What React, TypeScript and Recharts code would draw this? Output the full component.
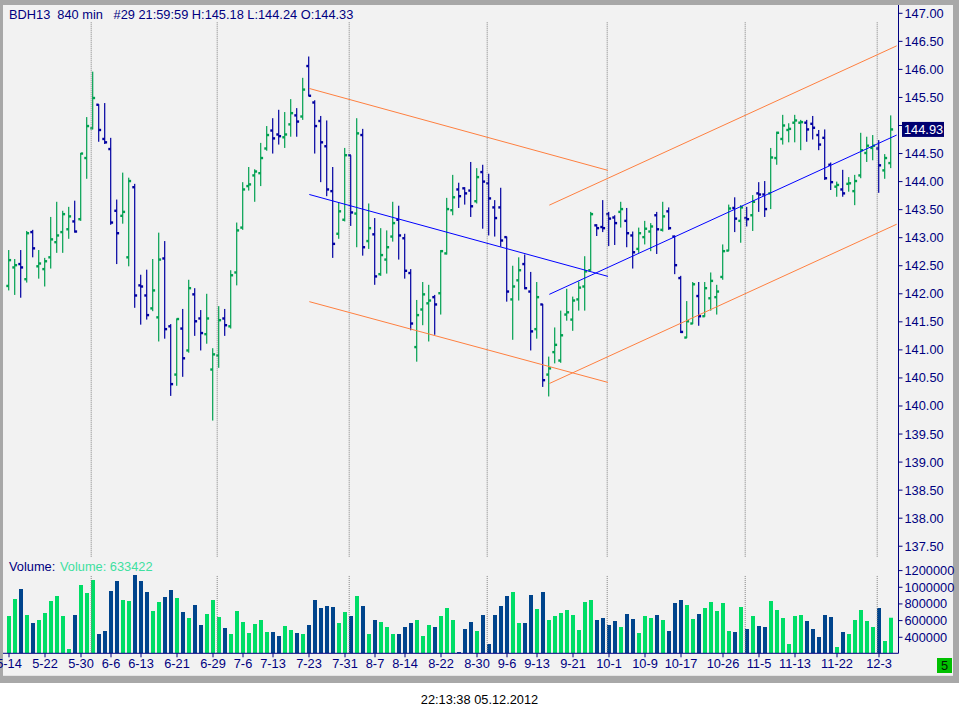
import React from "react";
import { ComposedChart, Bar, Cell, XAxis, YAxis, ReferenceLine } from "recharts";

// BDH13, 840 min bars, 14 May - 5 Dec 2012
const openP = [
  142.14, 142.47, 142.53, 142.26, 143.1, 142.49, 142.44, 142.65, 142.92, 143.1,
  143.15, 143.29, 143.33, 144.42, 144.95, 145.37, 144.76, 144.58, 143.48, 143.39,
  142.65, 143.9, 142.15, 141.97, 141.74, 141.58, 142.63, 141.42, 140.56, 141.38,
  140.99, 141.99, 141.56, 141.28, 140.65, 140.9, 141.56, 141.42, 142.38, 143.18,
  143.92, 144.11, 144.15, 144.59, 144.91, 144.84, 144.79, 145.02, 145.18, 145.16,
  146.06, 145.41, 145.08, 144.63, 143.83, 143.07, 143.32, 144.47, 143.43, 144.83,
  142.94, 143.06, 142.35, 142.61, 143.02, 143.32, 142.99, 142.37, 141.05, 141.72,
  141.83, 141.94, 142.01, 142.72, 143.49, 143.86, 143.88, 143.84, 143.65, 144.17,
  143.97, 143.54, 143.54, 143.01, 141.9, 142.24, 142.53, 142.04, 141.37, 141.81,
  140.56, 140.96, 140.81, 141.63, 141.54, 141.9, 142.13, 142.42, 143.22, 143.19,
  143.42, 143.36, 143.46, 143.3, 143.04, 142.8, 143.01, 143.11, 143.4, 143.14,
  143.47, 143.02, 142.28, 141.22, 141.47, 141.96, 141.6, 141.92, 141.94, 142.3,
  142.77, 143.53, 143.3, 143.35, 143.4, 143.79, 143.77, 143.79, 144.42, 144.76,
  144.92, 145.05, 145.05, 145.05, 145.03, 144.83, 144.78, 144.3, 143.91, 143.86,
  143.96, 143.83, 144.11, 144.51, 144.6, 144.59, 144.2, 144.33,
];
const highP = [
  142.78, 142.62, 142.78, 143.12, 143.14, 142.78, 142.64, 143.37, 143.64, 143.48,
  143.55, 143.66, 144.51, 145.15, 145.96, 145.38, 145.4, 144.78, 143.68, 144.16,
  144.07, 143.96, 142.34, 142.43, 142.62, 143.09, 142.94, 141.46, 141.56, 141.73,
  142.25, 142.1, 141.71, 142.0, 141.03, 141.78, 141.73, 142.42, 143.27, 143.99,
  144.26, 144.22, 144.69, 144.99, 145.13, 145.28, 145.24, 145.47, 145.31, 145.85,
  146.23, 145.45, 145.17, 145.09, 144.26, 143.63, 144.6, 144.47, 145.13, 144.94,
  143.61, 143.35, 143.17, 143.13, 143.64, 143.57, 143.07, 142.44, 141.89, 142.21,
  142.16, 141.98, 142.78, 143.71, 144.12, 143.98, 143.9, 144.35, 144.24, 144.3,
  144.14, 143.67, 143.89, 143.02, 142.5, 142.65, 142.7, 142.39, 142.21, 141.82,
  140.88, 141.4, 141.7, 142.09, 141.95, 142.22, 142.67, 143.46, 143.24, 143.67,
  143.46, 143.4, 143.64, 143.53, 143.11, 143.18, 143.3, 143.26, 143.46, 143.64,
  143.54, 143.04, 142.32, 141.87, 142.21, 142.21, 142.21, 142.38, 142.16, 142.88,
  143.59, 143.72, 143.58, 143.55, 143.76, 143.99, 144.01, 144.6, 144.89, 145.19,
  145.04, 145.19, 145.1, 145.1, 145.17, 144.92, 144.93, 144.34, 144.0, 144.21,
  144.08, 144.12, 144.87, 144.8, 144.83, 144.74, 144.49, 145.18,
];
const lowP = [
  142.06, 141.98, 141.93, 142.2, 142.65, 142.27, 142.13, 142.45, 142.73, 142.73,
  142.98, 143.09, 143.3, 144.05, 144.93, 144.71, 144.67, 143.23, 142.53, 143.25,
  142.49, 141.75, 141.45, 141.54, 141.69, 141.15, 141.2, 140.18, 140.36, 140.52,
  140.95, 141.25, 140.99, 141.11, 139.74, 140.68, 141.25, 141.38, 142.15, 143.14,
  143.84, 143.64, 143.92, 144.55, 144.5, 144.66, 144.6, 144.8, 144.8, 145.1,
  145.52, 144.5, 143.99, 143.74, 142.64, 142.98, 143.29, 143.21, 142.83, 142.68,
  142.8, 142.16, 142.32, 142.36, 142.93, 142.61, 142.27, 141.35, 140.79, 141.44,
  141.15, 141.27, 141.63, 142.7, 143.4, 143.53, 143.59, 143.37, 143.61, 143.16,
  143.04, 143.02, 142.84, 141.86, 141.18, 141.88, 142.08, 140.99, 141.2, 140.34,
  140.17, 140.76, 140.77, 141.52, 141.34, 141.7, 141.7, 142.41, 143.03, 143.1,
  142.85, 142.87, 143.18, 142.83, 142.45, 142.73, 142.88, 142.76, 142.71, 143.11,
  143.14, 142.35, 141.3, 141.21, 141.46, 141.43, 141.59, 141.7, 141.63, 142.25,
  142.76, 143.1, 142.91, 143.2, 143.12, 143.46, 143.37, 143.51, 144.3, 144.66,
  144.7, 144.7, 144.56, 144.71, 144.75, 144.56, 144.03, 143.85, 143.73, 143.73,
  143.82, 143.58, 144.06, 144.35, 144.38, 143.8, 144.05, 144.24,
];
const closeP = [
  142.6, 142.51, 142.47, 143.08, 142.81, 142.54, 142.58, 142.97, 143.04, 143.42,
  143.38, 143.11, 144.5, 144.99, 145.49, 144.92, 144.7, 143.27, 143.08, 143.46,
  144.01, 141.97, 142.13, 141.62, 142.06, 142.61, 141.37, 140.39, 141.55, 140.85,
  142.1, 141.51, 141.3, 141.56, 140.92, 141.53, 141.44, 142.33, 143.13, 143.86,
  143.95, 144.18, 144.42, 144.83, 144.77, 144.81, 144.84, 145.22, 145.07, 145.64,
  145.53, 144.99, 144.7, 143.86, 142.89, 143.47, 144.47, 143.45, 144.86, 142.83,
  143.17, 142.31, 142.69, 142.83, 143.26, 143.04, 142.41, 141.47, 141.62, 141.99,
  141.88, 141.81, 142.76, 143.51, 143.72, 143.74, 143.79, 143.56, 144.08, 144.0,
  143.7, 143.35, 142.95, 142.04, 142.13, 142.42, 142.1, 141.33, 141.94, 140.46,
  140.67, 141.09, 141.26, 141.67, 141.88, 142.11, 142.4, 143.42, 143.17, 143.17,
  143.34, 143.26, 143.51, 143.08, 142.74, 143.08, 143.16, 143.2, 143.15, 143.38,
  143.17, 142.51, 141.32, 141.51, 142.17, 141.6, 142.1, 142.23, 142.04, 142.76,
  143.52, 143.34, 143.54, 143.33, 143.64, 143.77, 143.51, 144.43, 144.87, 145.0,
  144.94, 145.09, 145.06, 144.93, 144.96, 144.66, 144.06, 143.99, 143.94, 143.79,
  143.97, 144.01, 144.56, 144.64, 144.64, 144.29, 144.42, 144.93,
];
const volume = [
  656000, 860000, 980000, 668000, 572000, 608000, 692000, 836000, 896000, 656000,
  260000, 668000, 1028000, 932000, 1088000, 440000, 476000, 956000, 1076000, 848000,
  836000, 1148000, 1076000, 944000, 716000, 824000, 884000, 968000, 872000, 704000,
  632000, 788000, 548000, 680000, 848000, 644000, 512000, 440000, 716000, 584000,
  452000, 560000, 608000, 464000, 464000, 416000, 536000, 488000, 452000, 440000,
  548000, 848000, 752000, 776000, 764000, 572000, 704000, 656000, 896000, 776000,
  440000, 608000, 584000, 524000, 440000, 440000, 524000, 572000, 608000, 416000,
  548000, 524000, 656000, 752000, 608000, 224000, 500000, 584000, 476000, 668000,
  320000, 668000, 776000, 896000, 944000, 572000, 572000, 908000, 740000, 944000,
  608000, 656000, 692000, 728000, 668000, 488000, 824000, 848000, 608000, 632000,
  548000, 596000, 524000, 680000, 620000, 452000, 656000, 632000, 668000, 608000,
  476000, 812000, 848000, 788000, 620000, 680000, 752000, 824000, 716000, 812000,
  476000, 464000, 764000, 500000, 656000, 536000, 524000, 836000, 728000, 632000,
  320000, 656000, 668000, 596000, 500000, 404000, 668000, 644000, 284000, 464000,
  440000, 608000, 728000, 596000, 524000, 752000, 356000, 633422,
];

const dateTickBars = [0, 6, 12, 17, 22, 28, 34, 39, 44, 50, 56, 61, 66, 72, 78, 83, 88, 94, 100, 106, 112, 119, 125, 131, 138, 145];
const dateTickLabels = ["5-14", "5-22", "5-30", "6-6", "6-13", "6-21", "6-29", "7-6", "7-13", "7-23", "7-31", "8-7", "8-14", "8-22", "8-30", "9-6", "9-13", "9-21", "10-1", "10-9", "10-17", "10-26", "11-5", "11-13", "11-22", "12-3"];
const monthStartBars = [14, 35, 57, 80, 100, 123, 145];
const priceTicks = [137.5, 138, 138.5, 139, 139.5, 140, 140.5, 141, 141.5, 142, 142.5, 143, 143.5, 144, 144.5, 145, 145.5, 146, 146.5, 147];
const volumeTicks = [400000, 600000, 800000, 1000000, 1200000];

// drawn channels: [bar, price] -> [bar, price]
const ORANGE = "#ff8040";
const LINE_BLUE = "#0000ff";
const trendLines = [
  { a: [50.05, 145.66], b: [99.83, 144.2], color: ORANGE },
  { a: [50.05, 143.77], b: [99.83, 142.31], color: LINE_BLUE },
  { a: [50.05, 141.86], b: [99.83, 140.42], color: ORANGE },
  { a: [90.05, 143.58], b: [147.95, 146.42], color: ORANGE },
  { a: [90.05, 141.99], b: [147.95, 144.83], color: LINE_BLUE },
  { a: [90.05, 140.4], b: [147.95, 143.24], color: ORANGE },
];

const NAVY = "#000080";
const UP = "#00a050";
const DOWN = "#0000a0";
const VOL_UP = "#00dd66";
const VOL_DOWN = "#00448c";
const FONT = "'Liberation Sans', Arial, sans-serif";

const X_DOMAIN = [-1, 148.25];
const PRICE_DOMAIN = [137.308, 147.148];
const VOL_DOMAIN = [207600, 1363200];

const data = openP.map((o, i) => ({
  i,
  o,
  h: highP[i],
  l: lowP[i],
  c: closeP[i],
  range: [lowP[i], highP[i]],
  v: volume[i],
  up: closeP[i] >= o,
}));

const lastClose = closeP[closeP.length - 1];

function OhlcBar(props: any) {
  const { x, y, width, height, payload } = props;
  if (x == null || y == null) return null;
  const top = Math.min(y, y + height);
  const h = Math.abs(height);
  const cx = x + width / 2;
  const span = payload.h - payload.l;
  const py = (p: number) => top + (span ? (payload.h - p) / span : 0) * h;
  return (
    <g fill={payload.up ? UP : DOWN}>
      <rect x={cx - 0.6} y={top} width={1.2} height={Math.max(h, 1)} />
      <rect x={cx - 2.4} y={py(payload.o) - 1.2} width={2.4} height={2.4} />
      <rect x={cx} y={py(payload.c) - 1.2} width={2.4} height={2.4} />
    </g>
  );
}

function PriceTick(props: any) {
  const { x, y, payload } = props;
  if (payload.value === 145) return <g />;
  return (
    <text x={x} y={y} dy={4.5} fill={NAVY} fontSize={12.8} fontFamily={FONT}>
      {payload.value.toFixed(2)}
    </text>
  );
}

function VolumeTick(props: any) {
  const { x, y, payload } = props;
  return (
    <text x={x} y={y} dy={4.5} fill={NAVY} fontSize={12.8} fontFamily={FONT}>
      {payload.value}
    </text>
  );
}

function LastPriceTag(props: any) {
  const vb = props.viewBox;
  if (!vb) return null;
  const left = vb.x + vb.width + 3.5;
  return (
    <g>
      <rect x={left} y={vb.y - 7.5} width={42} height={15} fill="#000070" />
      <text x={left + 2} y={vb.y + 4.5} fill="#ffffff" fontSize={12.8} fontFamily={FONT}>
        {lastClose.toFixed(2)}
      </text>
    </g>
  );
}

export default function App() {
  return (
    <div style={{ position: "absolute", left: 0, top: 0, width: 959, height: 717, background: "#ffffff", fontFamily: FONT, overflow: "hidden" }}>
      {/* window frame */}
      <div style={{ position: "absolute", left: 0, top: 0, width: 959, height: 683, background: "#a8a8a8" }} />
      <div style={{ position: "absolute", left: 3, top: 5, width: 950, height: 671, background: "#f2f2f2" }} />
      <div style={{ position: "absolute", left: 3, top: 675, width: 950, height: 1, background: "#e4e4e4" }} />

      <div style={{ position: "absolute", left: 0, top: 0 }}>
        <ComposedChart width={959} height={557} data={data} margin={{ top: 5, right: 0, bottom: 0, left: 3 }}>
          <XAxis dataKey="i" type="number" domain={X_DOMAIN} allowDataOverflow hide />
          <YAxis
            orientation="right"
            type="number"
            domain={PRICE_DOMAIN}
            allowDataOverflow
            ticks={priceTicks}
            interval={0}
            width={60.5}
            tickSize={4}
            axisLine={{ stroke: NAVY }}
            tickLine={{ stroke: NAVY }}
            tick={<PriceTick />}
          />
          {monthStartBars.map((m) => (
            <ReferenceLine
              key={`m${m}`}
              segment={[{ x: m - 0.3, y: 146.84 }, { x: m - 0.3, y: PRICE_DOMAIN[0] }]}
              stroke="#808080"
              strokeDasharray="1 1"
            />
          ))}
          <Bar dataKey="range" barSize={6} shape={<OhlcBar />} isAnimationActive={false} />
          {trendLines.map((t, k) => (
            <ReferenceLine
              key={`t${k}`}
              segment={[{ x: t.a[0], y: t.a[1] }, { x: t.b[0], y: t.b[1] }]}
              stroke={t.color}
              strokeWidth={1}
            />
          ))}
          <ReferenceLine y={lastClose} stroke="none" label={<LastPriceTag />} />
        </ComposedChart>
      </div>

      <div style={{ position: "absolute", left: 0, top: 557 }}>
        <ComposedChart width={959} height={120} data={data} margin={{ top: 0, right: 0, bottom: 0, left: 3 }}>
          <XAxis
            dataKey="i"
            type="number"
            domain={X_DOMAIN}
            allowDataOverflow
            ticks={dateTickBars}
            interval={0}
            height={23.7}
            tickSize={4}
            axisLine={{ stroke: NAVY }}
            tickLine={{ stroke: NAVY }}
            tick={{ fill: NAVY, fontSize: 12.8, fontFamily: FONT }}
            tickFormatter={(v: number) => dateTickLabels[dateTickBars.indexOf(v)] ?? ""}
          />
          <YAxis
            orientation="right"
            type="number"
            domain={VOL_DOMAIN}
            allowDataOverflow
            ticks={volumeTicks}
            interval={0}
            width={60.5}
            tickSize={4}
            axisLine={{ stroke: NAVY }}
            tickLine={{ stroke: NAVY }}
            tick={<VolumeTick />}
          />
          {monthStartBars.map((m) => (
            <ReferenceLine
              key={`vm${m}`}
              segment={[{ x: m - 0.3, y: 1135600 }, { x: m - 0.3, y: VOL_DOMAIN[0] }]}
              stroke="#808080"
              strokeDasharray="1 1"
            />
          ))}
          <Bar dataKey="v" barSize={4} isAnimationActive={false}>
            {data.map((d) => (
              <Cell key={`v${d.i}`} fill={d.up ? VOL_UP : VOL_DOWN} />
            ))}
          </Bar>
        </ComposedChart>
      </div>

      {/* captions */}
      <div style={{ position: "absolute", left: 9, top: 7, fontSize: 12.8, color: NAVY, whiteSpace: "pre" }}>
        {"BDH13  840 min   #29 21:59:59 H:145.18 L:144.24 O:144.33"}
      </div>
      <div style={{ position: "absolute", left: 9, top: 559, fontSize: 12.8, color: NAVY, whiteSpace: "pre" }}>
        Volume:
      </div>
      <div style={{ position: "absolute", left: 60, top: 559, fontSize: 12.8, color: "#40e0a0", whiteSpace: "pre" }}>
        {`Volume: ${volume[volume.length - 1]}`}
      </div>
      <div style={{ position: "absolute", left: 937, top: 658, width: 15, height: 15, background: "#00c000", color: "#002000", fontSize: 12.8, lineHeight: "15px", textAlign: "center" }}>
        5
      </div>
      <div style={{ position: "absolute", left: 0, top: 692, width: 959, textAlign: "center", fontSize: 12.8, color: "#000000" }}>
        22:13:38 05.12.2012
      </div>
    </div>
  );
}
